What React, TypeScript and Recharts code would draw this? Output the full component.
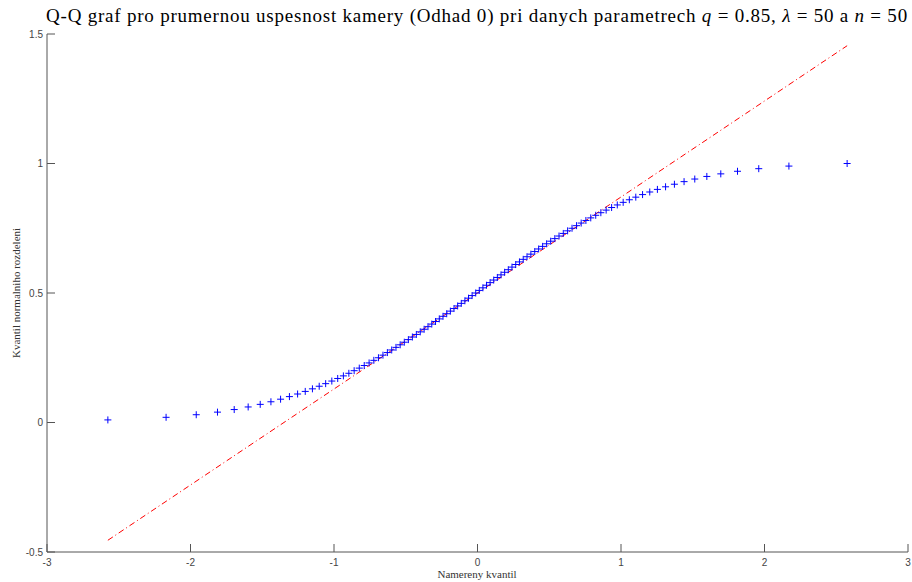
import React from "react"
import { Scatter, ScatterChart, XAxis, YAxis } from "recharts"

// theoretical normal quantiles, p = (i - 0.5) / 100
const lowerQuantiles = [
  -2.5758, -2.1701, -1.96, -1.8119, -1.6954, -1.5982, -1.5141, -1.4395, -1.3722, -1.3106,
  -1.2536, -1.2004, -1.1503, -1.1031, -1.0581, -1.0152, -0.9741, -0.9346, -0.8965, -0.8596,
  -0.8239, -0.7892, -0.7554, -0.7225, -0.6903, -0.6588, -0.628, -0.5978, -0.5681, -0.5388,
  -0.5101, -0.4817, -0.4538, -0.4261, -0.3989, -0.3719, -0.3451, -0.3186, -0.2924, -0.2663,
  -0.2404, -0.2147, -0.1891, -0.1637, -0.1383, -0.113, -0.0878, -0.0627, -0.0376, -0.0125,
]
const upperQuantiles = [
  0.0125, 0.0376, 0.0627, 0.0878, 0.113, 0.1383, 0.1637, 0.1891, 0.2147, 0.2404,
  0.2663, 0.2924, 0.3186, 0.3451, 0.3719, 0.3989, 0.4261, 0.4538, 0.4817, 0.5101,
  0.5388, 0.5681, 0.5978, 0.628, 0.6588, 0.6903, 0.7225, 0.7554, 0.7892, 0.8239,
  0.8596, 0.8965, 0.9346, 0.9741, 1.0152, 1.0581, 1.1031, 1.1503, 1.2004, 1.2536,
  1.3106, 1.3722, 1.4395, 1.5141, 1.5982, 1.6954, 1.8119, 1.96, 2.1701, 2.5758,
]

// sorted measured success rates
const lowerValues = [
  0.01, 0.02, 0.03, 0.04, 0.05, 0.06, 0.07, 0.08, 0.09, 0.1,
  0.11, 0.12, 0.13, 0.14, 0.15, 0.16, 0.17, 0.18, 0.19, 0.2,
  0.21, 0.22, 0.23, 0.24, 0.25, 0.26, 0.27, 0.28, 0.29, 0.3,
  0.31, 0.32, 0.33, 0.34, 0.35, 0.36, 0.37, 0.38, 0.39, 0.4,
  0.41, 0.42, 0.43, 0.44, 0.45, 0.46, 0.47, 0.48, 0.49, 0.5,
]
const upperValues = [
  0.51, 0.52, 0.53, 0.54, 0.55, 0.56, 0.57, 0.58, 0.59, 0.6,
  0.61, 0.62, 0.63, 0.64, 0.65, 0.66, 0.67, 0.68, 0.69, 0.7,
  0.71, 0.72, 0.73, 0.74, 0.75, 0.76, 0.77, 0.78, 0.79, 0.8,
  0.81, 0.82, 0.83, 0.84, 0.85, 0.86, 0.87, 0.88, 0.89, 0.9,
  0.91, 0.92, 0.93, 0.94, 0.95, 0.96, 0.97, 0.98, 0.99, 1.0,
]

// reference line through the quartiles
const refLineX = [-2.5758, 2.5758]
const refLineY = [-0.4547, 1.4547]

const xTicks = [-3, -2, -1, 0, 1, 2, 3]
const yTicks = [-0.5, 0, 0.5, 1, 1.5]

const quantiles = [...lowerQuantiles, ...upperQuantiles]
const values = [...lowerValues, ...upperValues]
const points = quantiles.map((x, i) => ({ x, y: values[i] }))
const refLine = refLineX.map((x, i) => ({ x, y: refLineY[i] }))

const AXIS = "#555"
const TICK_FONT = "'Liberation Sans', Arial, sans-serif"
const SERIF = "'Liberation Serif', 'Times New Roman', serif"

const XTick = ({ x, y, payload }: any) => (
  <g>
    <line x1={x} x2={x} y1={y} y2={y - 8} stroke={AXIS} />
    <text x={x} y={y + 14} textAnchor="middle" fontSize={10} fill="#444" style={{ fontFamily: TICK_FONT }}>
      {payload.value}
    </text>
  </g>
)

const YTick = ({ x, y, payload }: any) => (
  <g>
    <line x1={x} x2={x + 8} y1={y} y2={y} stroke={AXIS} />
    <text x={x - 4} y={y + 3.5} textAnchor="end" fontSize={10} fill="#444" style={{ fontFamily: TICK_FONT }}>
      {payload.value}
    </text>
  </g>
)

const Plus = ({ cx, cy }: any) => (
  <path d={`M${cx - 3.5},${cy}H${cx + 3.5}M${cx},${cy - 3.5}V${cy + 3.5}`} stroke="#0000ff" strokeWidth={1} fill="none" />
)

export default function App() {
  return (
    <div style={{ position: "absolute", left: 0, top: 0, width: 912, height: 582, background: "#fff" }}>
      <ScatterChart width={912} height={582} margin={{ top: 34, right: 4, left: 0, bottom: 0 }}>
        <XAxis
          type="number"
          dataKey="x"
          domain={[-3, 3]}
          ticks={xTicks}
          interval={0}
          height={30}
          tickSize={0}
          tickMargin={0}
          tickLine={false}
          axisLine={{ stroke: AXIS }}
          tick={<XTick />}
        />
        <YAxis
          type="number"
          dataKey="y"
          domain={[-0.5, 1.5]}
          ticks={yTicks}
          interval={0}
          width={47}
          tickSize={0}
          tickMargin={0}
          tickLine={false}
          axisLine={{ stroke: AXIS }}
          tick={<YTick />}
        />
        <Scatter
          data={refLine}
          line={{ stroke: "#ff0000", strokeWidth: 1, strokeDasharray: "6 3 1 3" }}
          shape={() => <g />}
          isAnimationActive={false}
        />
        <Scatter data={points} shape={<Plus />} isAnimationActive={false} />
      </ScatterChart>
      <svg width={912} height={582} style={{ position: "absolute", left: 0, top: 0, pointerEvents: "none" }}>
        <text
          x={477}
          y={22}
          textAnchor="middle"
          fontSize={19}
          fill="#000"
          style={{ fontFamily: SERIF, letterSpacing: "0.78px" }}
        >
          Q-Q graf pro prumernou uspesnost kamery (Odhad 0) pri danych parametrech{" "}
          <tspan fontStyle="italic">q</tspan> = 0.85, <tspan fontStyle="italic">λ</tspan> = 50 a{" "}
          <tspan fontStyle="italic">n</tspan> = 50
        </text>
        <text x={477} y={578} textAnchor="middle" fontSize={11} fill="#333" style={{ fontFamily: SERIF }}>
          Namereny kvantil
        </text>
        <text
          x={0}
          y={0}
          transform="translate(20,293) rotate(-90)"
          textAnchor="middle"
          fontSize={11}
          fill="#333"
          style={{ fontFamily: SERIF }}
        >
          Kvantil normalniho rozdeleni
        </text>
      </svg>
    </div>
  )
}
